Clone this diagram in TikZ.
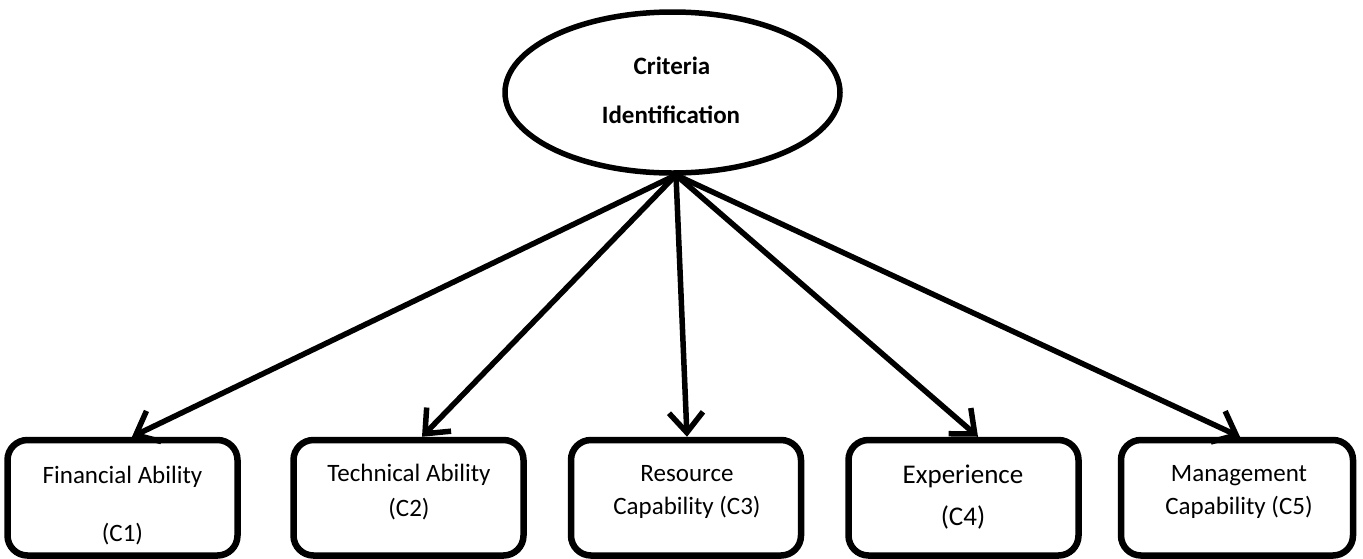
\documentclass[tikz,border=0pt]{standalone}
\usepackage{fontspec}
\setmainfont{Carlito}
\usetikzlibrary{shapes.geometric,arrows.meta,calc}
\tikzset{
  critbox/.style={draw=black, line width=6.5pt, rounded corners=20pt, minimum width=230pt, minimum height=115.5pt, inner sep=0pt},
  rootell/.style={draw=black, ellipse, line width=5.5pt, minimum width=335pt, minimum height=161pt, inner sep=0pt},
  lbl/.style={anchor=base, inner sep=0pt, font=\fontsize{25}{30}\selectfont},
  biglbl/.style={anchor=base, inner sep=0pt, font=\fontsize{27}{32}\selectfont},
  rootlbl/.style={anchor=base, inner sep=0pt, font=\bfseries\fontsize{25}{30}\selectfont},
  arr/.style={line width=5.5pt, -{Straight Barb[length=20pt,width=34pt]}}
}
\begin{document}
\begin{tikzpicture}[x=1pt,y=-1pt]
\useasboundingbox (0,0) rectangle (1363,558);
\clip (0,0) rectangle (1363,558);
% root
\node[rootell] (root) at (672.5,92.5) {};
\node[rootlbl] (rootA) at (672,74) {Criteria};
\node[rootlbl] (rootB) at (671,123) {Identification};
\coordinate (src) at (676,175);
% boxes
\node[critbox] (b1) at (122.5,497.75) {};
\node[critbox] (b2) at (408.5,497.75) {};
\node[critbox] (b3) at (686,497.75) {};
\node[critbox] (b4) at (963.5,497.75) {};
\node[critbox, minimum width=232pt] (b5) at (1237,497.75) {};
% labels
\node[lbl] (t1a) at (122.5,483) {Financial Ability};
\node[lbl] (t1b) at (122.5,541) {(C1)};
\node[lbl] (t2a) at (409,481.7) {Technical Ability};
\node[lbl] (t2b) at (409,516.7) {(C2)};
\node[lbl] (t3a) at (687,481.7) {Resource};
\node[lbl] (t3b) at (687,514) {Capability (C3)};
\node[biglbl] (t4a) at (963,483.3) {Experience};
\node[biglbl] (t4b) at (963,525) {(C4)};
\node[lbl] (t5a) at (1239,481.7) {Management};
\node[lbl] (t5b) at (1239,514) {Capability (C5)};
% arrows
\draw[arr] (src) -- ($(b1.north)+(9.5,0)$);
\draw[arr] (src) -- ($(b2.north)+(13.5,0)$);
\draw[arr] (src) -- ($(b3.north)+(1,0)$);
\draw[arr] (src) -- ($(b4.north)+(14.5,0)$);
\draw[arr] (src) -- ($(b5.north)+(3,0)$);
\end{tikzpicture}
\end{document}
